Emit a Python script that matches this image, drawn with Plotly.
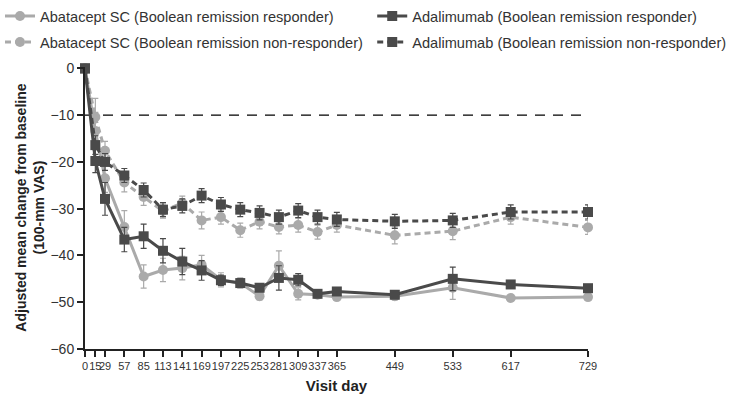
import plotly.graph_objects as go

# Visit schedule (days) and tick labels
days = [0, 15, 29, 57, 85, 113, 141, 169, 197, 225, 253, 281, 309, 337, 365, 449, 533, 617, 729]
tick_labels = [str(d) for d in days]

# Adjusted mean change from baseline (100-mm VAS)
aba_resp = [0, -13.4, -23.5, -33.9, -44.5, -43.1, -42.7, -42.0, -45.2, -45.9, -48.7,
            -42.2, -48.2, -48.4, -48.9, -48.7, -46.9, -49.1, -48.9]
ada_resp = [0, -19.8, -27.9, -36.6, -35.9, -39.0, -41.3, -43.2, -45.3, -45.9, -46.9,
            -44.8, -45.2, -48.2, -47.7, -48.4, -45.0, -46.2, -47.0]
aba_non = [0, -10.4, -17.6, -24.4, -27.5, -30.5, -28.8, -32.5, -31.8, -34.6, -32.8,
           -33.9, -33.5, -35.0, -33.5, -35.7, -34.8, -31.8, -34.0]
ada_non = [0, -16.4, -20.0, -22.9, -26.0, -30.2, -29.4, -27.2, -29.1, -30.2, -30.9,
           -31.8, -30.4, -31.8, -32.3, -32.7, -32.5, -30.7, -30.7]

# Standard errors
aba_resp_err = [0, 4, 3, 3.5, 2.5, 2.5, 2.5, 2, 1.5, 1, 0.8, 3.2, 1.3, 0.6, 0.6, 0.8, 2.5, 0.6, 0.6]
ada_resp_err = [0, 2.5, 3.5, 2.6, 2.6, 2.6, 2.8, 2.1, 1.1, 1, 0.8, 2.6, 1.3, 0.6, 0.6, 0.8, 2.5, 0.8, 0.5]
aba_non_err = [0, 4, 2, 2, 1.8, 1.5, 1.5, 1.8, 1.5, 1.5, 1.5, 1.5, 1.5, 1.5, 1.5, 1.8, 1.8, 1.5, 1.5]
ada_non_err = [0, 2, 1.8, 1.5, 1.5, 1.5, 1.5, 1.5, 1.5, 1.5, 1.5, 1.5, 1.5, 1.5, 1.5, 1.5, 1.5, 1.5, 1.5]

threshold = -10

LIGHT = "#aaaaaa"
DARK = "#4a4a4a"
FONT = "Liberation Sans, Arial, sans-serif"

# Abatacept entries go in the left legend column, adalimumab in the right one
series = [
    ("Abatacept SC (Boolean remission responder)", aba_resp, aba_resp_err, LIGHT, "circle", "solid", "legend"),
    ("Abatacept SC (Boolean remission non-responder)", aba_non, aba_non_err, LIGHT, "circle", "6px,4px", "legend"),
    ("Adalimumab (Boolean remission responder)", ada_resp, ada_resp_err, DARK, "square", "solid", "legend2"),
    ("Adalimumab (Boolean remission non-responder)", ada_non, ada_non_err, DARK, "square", "6px,4px", "legend2"),
]

fig = go.Figure()
for i, (name, vals, errs, color, symbol, dash, leg) in enumerate(series):
    fig.add_trace(go.Scatter(
        x=days, y=vals, name=name, mode="lines+markers", legend=leg,
        legendgroup=f"g{i}",
        line=dict(color=color, width=3, dash=dash),
        marker=dict(color=color, symbol=symbol, size=10),
        error_y=dict(type="data", array=errs, visible=True, color=color,
                     thickness=1.2, width=3),
        cliponaxis=False,
    ))

fig.add_shape(type="line", xref="x", yref="y", x0=0, x1=729, y0=threshold, y1=threshold,
              line=dict(color="black", width=1.3, dash="10px,8px"), layer="below")

legend_style = dict(
    orientation="v", xref="container", yref="container",
    y=1.0, xanchor="left", yanchor="top",
    font=dict(size=14.6, family=FONT, color="#333333"),
    itemwidth=30, tracegroupgap=4, bgcolor="rgba(0,0,0,0)",
)

fig.update_layout(
    width=740, height=398,
    margin=dict(l=85, r=152, t=67, b=49, autoexpand=False),
    paper_bgcolor="white", plot_bgcolor="white",
    font=dict(family=FONT, color="#222222"),
    showlegend=True,
    legend=dict(x=0.0, **legend_style),
    legend2=dict(x=0.503, **legend_style),
    xaxis=dict(
        range=[0, 729], tickmode="array", tickvals=days, ticktext=tick_labels,
        showgrid=False, zeroline=False, showline=True, linecolor="#222222", linewidth=2,
        ticks="outside", ticklen=6, tickwidth=1.5, tickcolor="#222222",
        tickfont=dict(size=11, family=FONT, color="#333333"), tickangle=0,
        title=dict(text="<b>Visit day</b>", font=dict(size=15, family=FONT, color="#222222"),
                   standoff=9),
    ),
    yaxis=dict(
        range=[-60, 0.3], tickvals=[0, -10, -20, -30, -40, -50, -60],
        ticktext=["0", "−10", "−20", "−30", "−40", "−50", "−60"],
        showgrid=False, zeroline=False, showline=True, linecolor="#222222", linewidth=2,
        ticks="outside", ticklen=6, tickwidth=1.5, tickcolor="#222222",
        tickfont=dict(size=14, family=FONT, color="#333333"),
    ),
    annotations=[dict(
        text="<b>Adjusted mean change from baseline<br>(100-mm VAS)</b>",
        xref="paper", yref="paper", x=-0.11, y=0.5, xanchor="center", yanchor="middle",
        textangle=-90, showarrow=False, font=dict(size=14, family=FONT, color="#222222"),
    )],
)

fig.write_html("out.html")
